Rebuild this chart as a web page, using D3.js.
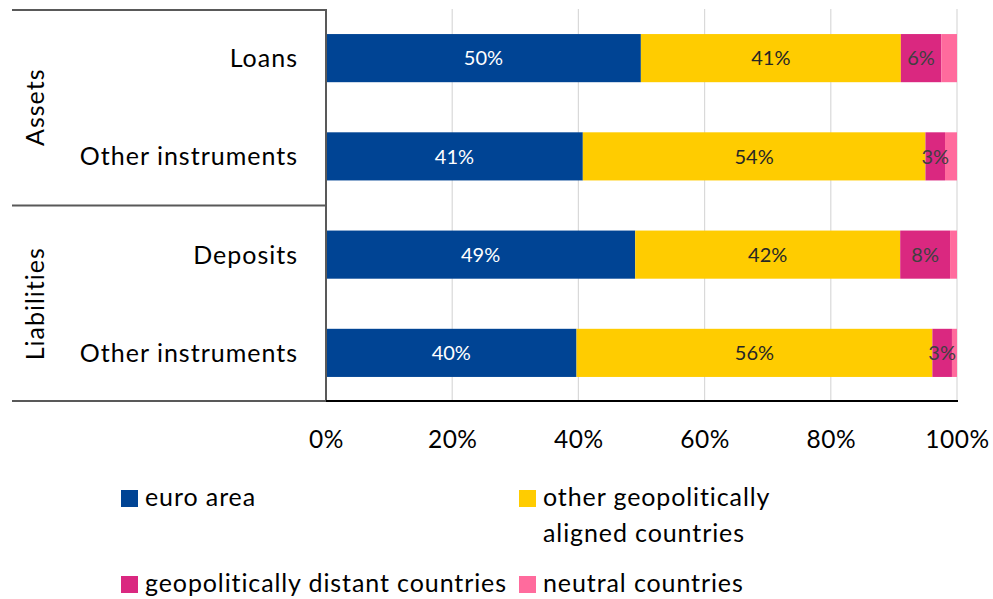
<!DOCTYPE html>
<html>
<head>
<meta charset="utf-8">
<script src="https://cdn.jsdelivr.net/npm/d3@7"></script>
<style>
  html, body { margin: 0; padding: 0; background: #fff; }
  svg { display: block; font-family: Lato, "Open Sans", sans-serif; }
</style>
</head>
<body>
<svg id="chart" width="993" height="599"></svg>
<script>
// Instruments (rows, top to bottom) and the balance-sheet side each belongs to
const categories = ["Loans", "Other instruments (assets)", "Deposits", "Other instruments (liabilities)"];
const categoryLabels = ["Loans", "Other instruments", "Deposits", "Other instruments"];
const groups = ["Assets", "Liabilities"];

// Shares by counterparty region, in percent
const seriesNames = ["euro area", "other geopolitically aligned countries", "geopolitically distant countries", "neutral countries"];
const euroArea  = [49.9, 40.7, 49.0, 39.7];
const aligned   = [41.2, 54.3, 42.0, 56.4];
const distant   = [6.4, 3.1, 7.9, 3.1];
const neutral   = [2.5, 1.9, 1.1, 0.8];

const xTicks = [0, 20, 40, 60, 80, 100];
const colors = ["#004494", "#FFCC00", "#DA2880", "#FF6B9D"];
const labelColors = ["#ffffff", "#262626", "#404040", null];
const legendLines = [["euro area"], ["other geopolitically", "aligned countries"], ["geopolitically distant countries"], ["neutral countries"]];

const svg = d3.select("#chart");

const x = d3.scaleLinear().domain([0, 100]).range([326, 957]);
const y = d3.scaleBand().domain(categories).range([9, 402]).paddingInner(0.51).paddingOuter(0.255);
const yGroup = d3.scaleBand().domain(groups).range([9, 402]);

// Vertical gridlines
svg.append("g").selectAll("line").data(xTicks.slice(1)).join("line")
  .attr("x1", d => x(d)).attr("x2", d => x(d))
  .attr("y1", 9).attr("y2", 402)
  .attr("stroke", "#d9d9d9").attr("stroke-width", 1.2);

// Stacked bars
const rows = categories.map((c, i) => ({ key: c, v: [euroArea[i], aligned[i], distant[i], neutral[i]] }));
const stack = d3.stack().keys([0, 1, 2, 3]).value((d, k) => d.v[k]);
const stacked = stack(rows);

const layers = svg.append("g").selectAll("g").data(stacked).join("g")
  .attr("fill", (d, i) => colors[i]);
layers.selectAll("rect").data(d => d).join("rect")
  .attr("x", d => x(d[0]))
  .attr("width", d => x(d[1]) - x(d[0]))
  .attr("y", d => y(d.data.key))
  .attr("height", y.bandwidth());

// Value labels (the smallest "neutral" slice carries none)
const fmt = v => Math.round(v) + "%";
stacked.forEach((layer, i) => {
  if (!labelColors[i]) return;
  svg.append("g").selectAll("text").data(layer).join("text")
    .attr("x", d => (x(d[0]) + x(d[1])) / 2)
    .attr("y", d => y(d.data.key) + y.bandwidth() / 2)
    .attr("dy", "0.36em")
    .attr("text-anchor", "middle")
    .attr("font-size", 20)
    .attr("fill", labelColors[i])
    .text(d => fmt(d[1] - d[0]));
});

// Category axis frame
const frame = svg.append("g").attr("stroke", "#595959").attr("stroke-width", 2).attr("fill", "none");
frame.append("line").attr("x1", 12).attr("x2", 326).attr("y1", 10).attr("y2", 10);
frame.append("line").attr("x1", 12).attr("x2", 326).attr("y1", yGroup("Liabilities")).attr("y2", yGroup("Liabilities"));
frame.append("line").attr("x1", 12).attr("x2", 326).attr("y1", 401).attr("y2", 401);
frame.append("line").attr("x1", 326).attr("x2", 326).attr("y1", 9).attr("y2", 402);

// Value axis baseline
svg.append("line").attr("x1", 326).attr("x2", 958).attr("y1", 401).attr("y2", 401)
  .attr("stroke", "#000").attr("stroke-width", 2);

// Category labels
svg.append("g").selectAll("text").data(categories).join("text")
  .attr("x", 298)
  .attr("y", d => y(d) + y.bandwidth() / 2)
  .attr("dy", "0.36em")
  .attr("text-anchor", "end")
  .attr("font-size", 25)
  .attr("letter-spacing", 1)
  .attr("fill", "#000")
  .text((d, i) => categoryLabels[i]);

// Group labels, rotated
svg.append("g").selectAll("text").data(groups).join("text")
  .attr("transform", d => `translate(35,${yGroup(d) + yGroup.bandwidth() / 2}) rotate(-90)`)
  .attr("dy", "0.36em")
  .attr("text-anchor", "middle")
  .attr("font-size", 25)
  .attr("letter-spacing", 1)
  .attr("fill", "#000")
  .text(d => d);

// Percentage tick labels
const xAxis = d3.axisBottom(x).tickValues(xTicks).tickFormat(d => d + "%").tickSize(0).tickPadding(0);
const gx = svg.append("g").attr("transform", "translate(0,430)").call(xAxis);
gx.select(".domain").remove();
gx.selectAll("text").attr("font-size", 24.5).attr("font-family", "Lato, 'Open Sans', sans-serif")
  .attr("letter-spacing", 0.5)
  .attr("fill", "#000").attr("dy", "0.72em").attr("y", 0);

// Legend: two columns, two rows
const legendCols = [121, 519];
const legendRows = [490, 576];
const legend = svg.append("g").selectAll("g").data(seriesNames).join("g")
  .attr("transform", (d, i) => `translate(${legendCols[i % 2]},${legendRows[Math.floor(i / 2)]})`);
legend.append("rect").attr("width", 17).attr("height", 17).attr("fill", (d, i) => colors[i]);
legend.append("text")
  .attr("x", 24).attr("y", 16)
  .attr("font-size", 25).attr("letter-spacing", 0.9).attr("fill", "#000")
  .selectAll("tspan").data((d, i) => legendLines[i]).join("tspan")
  .attr("x", 24).attr("dy", (d, j) => j === 0 ? 0 : 36)
  .text(d => d);
</script>
</body>
</html>
